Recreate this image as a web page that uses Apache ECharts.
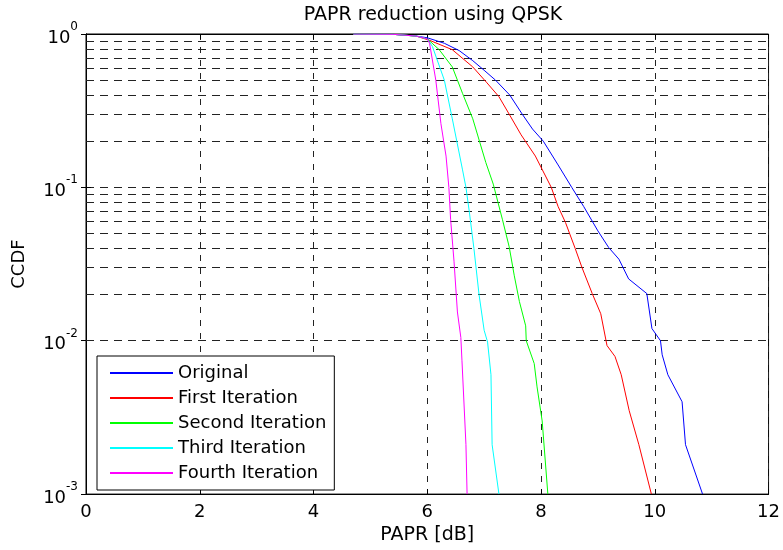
<!DOCTYPE html>
<html>
<head>
<meta charset="utf-8">
<script src="https://cdn.jsdelivr.net/npm/echarts@6/dist/echarts.min.js"></script>
<style>
  html, body { margin: 0; padding: 0; background: #fff; }
  #chart { width: 783px; height: 550px; }
</style>
</head>
<body>
<div id="chart"></div>
<script>
// CCDF curves: [PAPR dB, CCDF]
const original = [[4.7,1],[5.4,0.995],[5.8,0.97],[6.0,0.945],[6.3,0.87],[6.56,0.78],[6.8,0.67],[7.0,0.58],[7.2,0.5],[7.45,0.4],[7.67,0.3],[7.85,0.24],[8.04,0.2],[8.3,0.14],[8.54,0.1],[8.75,0.075],[9.0,0.052],[9.19,0.0405],[9.37,0.034],[9.54,0.0253],[9.86,0.0203],[9.95,0.012],[10.1,0.01],[10.13,0.0081],[10.23,0.006],[10.48,0.004],[10.54,0.0021],[10.84,0.001]]
const firstIter = [[4.7,1],[5.4,0.995],[5.8,0.97],[6.04,0.91],[6.44,0.79],[6.8,0.61],[7.05,0.48],[7.26,0.39],[7.44,0.3],[7.65,0.22],[7.9,0.16],[8.18,0.1],[8.3,0.075],[8.43,0.059],[8.6,0.04],[8.72,0.03],[8.9,0.0203],[9.05,0.015],[9.16,0.0093],[9.3,0.0079],[9.41,0.006],[9.55,0.0035],[9.72,0.0021],[9.94,0.001]]
const secondIter = [[4.7,1],[5.4,0.995],[5.8,0.97],[6.0,0.93],[6.21,0.79],[6.44,0.61],[6.62,0.41],[6.8,0.28],[7.03,0.145],[7.16,0.105],[7.32,0.062],[7.44,0.041],[7.53,0.0265],[7.62,0.018],[7.73,0.0125],[7.74,0.01],[7.88,0.0071],[7.93,0.005],[8.02,0.003],[8.12,0.001]]
const thirdIter = [[4.7,1],[5.4,0.995],[5.8,0.97],[6.0,0.93],[6.09,0.83],[6.3,0.5],[6.44,0.28],[6.62,0.13],[6.68,0.1],[6.74,0.069],[6.82,0.04],[6.91,0.02],[7.0,0.0117],[7.06,0.0098],[7.12,0.006],[7.14,0.0021],[7.26,0.001]]
const fourthIter = [[4.7,1],[5.4,0.995],[5.8,0.97],[6.0,0.93],[6.04,0.87],[6.15,0.5],[6.24,0.26],[6.33,0.16],[6.38,0.1],[6.41,0.062],[6.47,0.033],[6.53,0.0154],[6.59,0.0105],[6.61,0.0074],[6.68,0.0021],[6.7,0.001]]

const seriesNames = ['Original', 'First Iteration', 'Second Iteration', 'Third Iteration', 'Fourth Iteration']
const seriesColors = ['#0000ff', '#ff0000', '#00ff00', '#00ffff', '#ff00ff']
const seriesData = [original, firstIter, secondIter, thirdIter, fourthIter]

// minor log gridlines (2..9 of each decade)
const minorGrid = [0.002,0.003,0.004,0.005,0.006,0.007,0.008,0.009,
                   0.02,0.03,0.04,0.05,0.06,0.07,0.08,0.09,
                   0.2,0.3,0.4,0.5,0.6,0.7,0.8,0.9]

const font = 'DejaVu Sans'
const chart = echarts.init(document.getElementById('chart'))

const supLabel = v => {
  const e = Math.round(Math.log10(v))
  return '{b|10}{s|' + e + '}'
}

const series = seriesData.map((d, i) => ({
  name: seriesNames[i],
  type: 'line',
  data: d,
  showSymbol: false,
  symbol: 'none',
  lineStyle: { color: seriesColors[i], width: 1 },
  itemStyle: { color: seriesColors[i] },
  z: 5
}))

series.unshift({
  name: 'grid',
  type: 'line',
  data: [],
  silent: true,
  markLine: {
    silent: true,
    symbol: 'none',
    label: { show: false },
    lineStyle: { color: '#222', width: 1, type: [8, 6] },
    data: minorGrid.map(v => ({ yAxis: v }))
  }
})

chart.setOption({
  animation: false,
  backgroundColor: '#fff',
  title: {
    text: 'PAPR reduction using QPSK',
    left: 428,
    textAlign: 'center',
    top: 1,
    textStyle: { fontFamily: font, fontSize: 19, fontWeight: 'normal', color: '#000' }
  },
  grid: {
    left: 86, right: 13, top: 34, bottom: 54,
    show: true, borderColor: '#000', borderWidth: 1, backgroundColor: '#fff'
  },
  legend: {
    data: seriesNames,
    orient: 'vertical',
    left: 97, top: 356,
    backgroundColor: '#fff',
    borderColor: '#000',
    borderWidth: 1,
    padding: [8, 8, 8, 13],
    itemWidth: 63,
    itemHeight: 2,
    itemGap: 7,
    icon: 'rect',
    textStyle: { fontFamily: font, fontSize: 18, color: '#000' }
  },
  xAxis: [{
    type: 'value',
    min: 0, max: 12, interval: 2,
    name: 'PAPR [dB]',
    nameLocation: 'middle',
    nameGap: 31,
    nameTextStyle: { fontFamily: font, fontSize: 19, color: '#000' },
    axisLine: { show: true, onZero: false, lineStyle: { color: '#000' } },
    axisTick: { inside: true, length: 5, lineStyle: { color: '#000' } },
    axisLabel: { fontFamily: font, fontSize: 18, color: '#000', margin: 9 },
    splitLine: { show: true, lineStyle: { color: '#222', width: 1, type: [6, 7] } }
  }, {
    type: 'value', position: 'top',
    min: 0, max: 12, interval: 2,
    axisLine: { show: true, lineStyle: { color: '#000' } },
    axisTick: { inside: true, length: 5, lineStyle: { color: '#000' } },
    axisLabel: { show: false },
    splitLine: { show: false }
  }],
  yAxis: [{
    type: 'log',
    logBase: 10,
    min: 0.001, max: 1,
    name: 'CCDF',
    nameLocation: 'middle',
    nameGap: 58,
    nameTextStyle: { fontFamily: font, fontSize: 18, color: '#000' },
    axisLine: { show: true, lineStyle: { color: '#000' } },
    axisTick: { inside: true, length: 5, lineStyle: { color: '#000' } },
    axisLabel: {
      formatter: supLabel,
      margin: 8,
      rich: {
        b: { fontFamily: font, fontSize: 18, color: '#000', verticalAlign: 'bottom' },
        s: { fontFamily: font, fontSize: 12, color: '#000', verticalAlign: 'bottom', padding: [0, 0, 14, 0] }
      }
    },
    splitLine: { show: true, lineStyle: { color: '#222', width: 1, type: [8, 6] } }
  }, {
    type: 'log',
    logBase: 10,
    min: 0.001, max: 1,
    position: 'right',
    axisLine: { show: true, lineStyle: { color: '#000' } },
    axisTick: { inside: true, length: 5, lineStyle: { color: '#000' } },
    axisLabel: { show: false },
    splitLine: { show: false }
  }],
  series: series
})
</script>
</body>
</html>
